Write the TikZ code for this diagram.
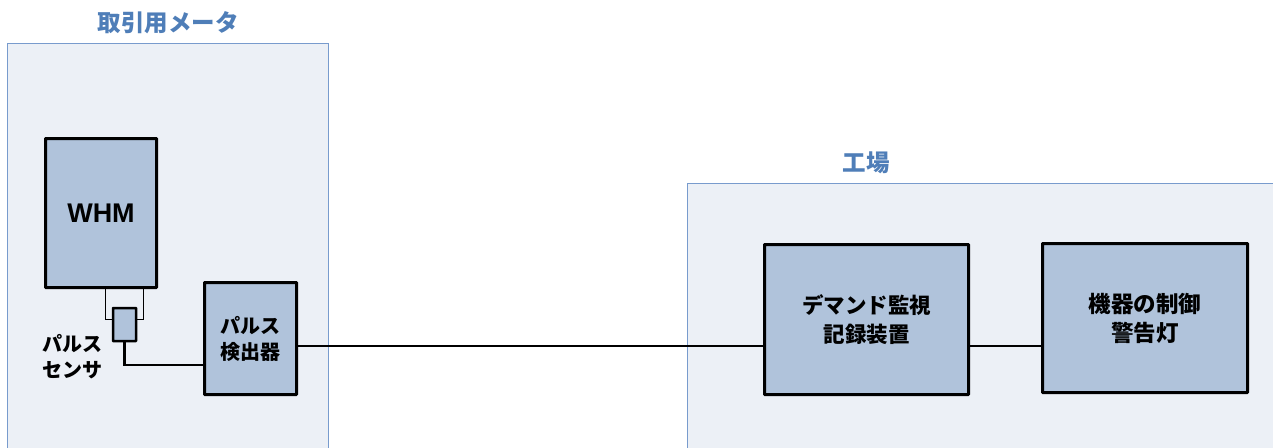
\documentclass[tikz,border=0pt]{standalone}
\usepackage{fontspec}
\newfontfamily\jp{Noto Sans CJK JP}
\newfontfamily\lat{Liberation Sans}
\definecolor{panelfill}{RGB}{236,240,246}
\definecolor{paneldraw}{RGB}{120,155,205}
\definecolor{boxfill}{RGB}{176,195,219}
\definecolor{titlecol}{RGB}{79,126,184}
\begin{document}
\begin{tikzpicture}[x=1pt,y=-1pt,
  panel/.style={draw=paneldraw,fill=panelfill,line width=0.8pt},
  blk/.style={draw=black,fill=boxfill,line width=3pt,rounded corners=0.5pt,inner sep=0pt,anchor=center,align=center},
  wire/.style={draw=black,line width=2.8pt},
  thin/.style={draw=black,line width=0.8pt},
  ttl/.style={font=\jp\bfseries\fontsize{23.5}{27}\selectfont,text=titlecol,inner sep=0pt},
  lbl/.style={font=\jp\bfseries\fontsize{20}{26}\selectfont,align=center,inner sep=0pt}]
\useasboundingbox (0,0) rectangle (1273,447);
\clip (0,0) rectangle (1273,447);
\fill[white] (0,0) rectangle (1273,447);
% panels
\draw[panel] (7.5,43.5) rectangle (328,460);
\draw[panel] (687.5,183.5) rectangle (1290,460);
\node[ttl] (t1) at (168,23) {取引用メータ};
\node[ttl] (t2) at (866,163) {工場};
% blocks
\node[blk,minimum width=111pt,minimum height=149pt,font=\lat\bfseries\fontsize{27}{30}\selectfont] (whm) at (101,213) {WHM};
\node[blk,line width=2.5pt,minimum width=23pt,minimum height=33pt] (sen) at (124.5,324.5) {};
\node[blk,lbl,minimum width=92pt,minimum height=112pt] (det) at (250.5,338.5) {パルス\\検出器};
\node[blk,lbl,font=\jp\bfseries\fontsize{21.5}{29}\selectfont,minimum width=204pt,minimum height=150pt] (dem) at (866.5,319.5) {デマンド監視\\記録装置};
\node[blk,lbl,font=\jp\bfseries\fontsize{22.5}{29}\selectfont,minimum width=205pt,minimum height=149pt] (mach) at (1145,318) {機器の制御\\警告灯};
\node[lbl] (senl) at (72,357) {パルス\\センサ};
% bracket
\coordinate (bl) at (105,319);
\coordinate (br) at (143.5,319);
\draw[thin] (whm.south -| bl) -- (bl) -- (sen.west |- bl);
\draw[thin] (whm.south -| br) -- (br) -- (sen.east |- br);
% wires
\coordinate (sy) at (0,365);
\coordinate (ly) at (0,346);
\draw[wire] (sen.south) -- (sen.south |- sy) -- (det.west |- sy);
\draw[wire] (det.east |- ly) -- (dem.west |- ly);
\draw[wire] (dem.east |- ly) -- (mach.west |- ly);
\end{tikzpicture}
\end{document}
